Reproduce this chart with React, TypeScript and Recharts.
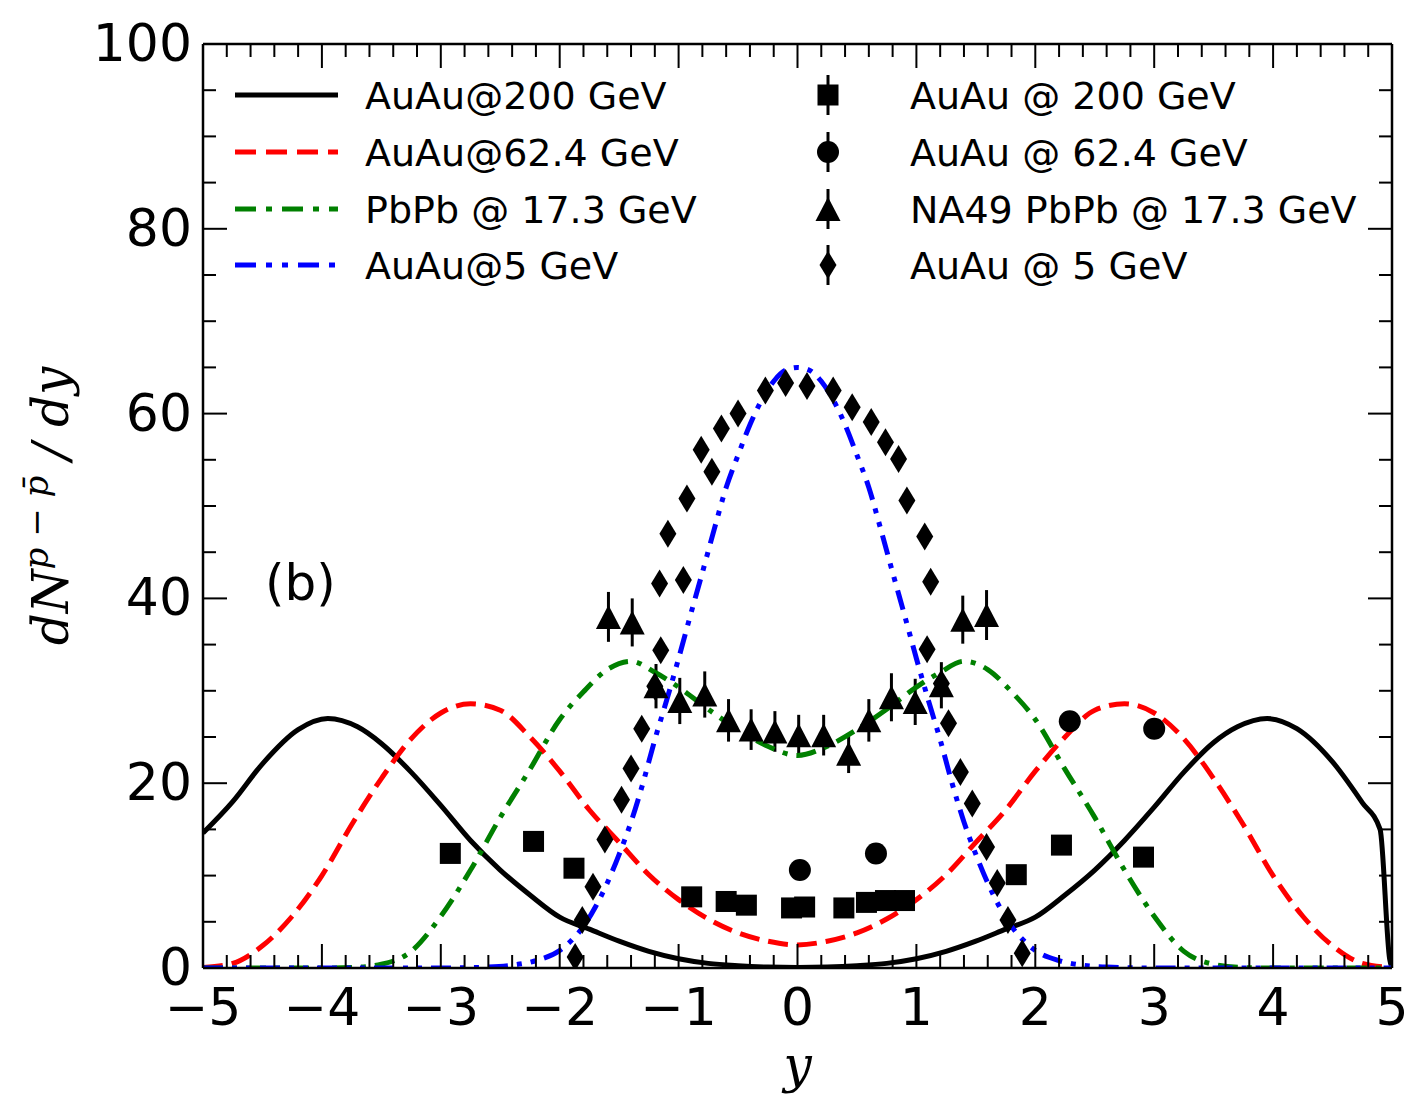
import React from 'react';
import {
  ComposedChart,
  Line,
  Scatter,
  XAxis,
  YAxis,
  ErrorBar,
  Legend,
  ReferenceDot,
} from 'recharts';

type Pt = [number, number];

// model curves (x = rapidity y, value = dN/dy)
const curveAuAu200: Pt[] = [
  [-5, 14.6], [-4.75, 18.0], [-4.5, 22.1], [-4.2, 25.8], [-3.95, 27.0], [-3.7, 26.1],
  [-3.5, 24.3], [-3.25, 21.2], [-3, 17.6], [-2.75, 13.8], [-2.5, 10.6], [-2.25, 7.9],
  [-2, 5.5], [-1.75, 4.2], [-1.5, 2.9], [-1.25, 1.8], [-1, 1.0], [-0.75, 0.5],
  [-0.5, 0.25], [-0.25, 0.1], [0, 0.05], [0.25, 0.1], [0.5, 0.25], [0.75, 0.5],
  [1, 1.0], [1.25, 1.8], [1.5, 2.9], [1.75, 4.2], [2, 5.5], [2.25, 7.9], [2.5, 10.6],
  [2.75, 13.8], [3, 17.4], [3.25, 21.2], [3.5, 24.4], [3.7, 26.1], [3.95, 27.0],
  [4.2, 25.9], [4.5, 22.3], [4.75, 17.9], [4.9, 15.0], [4.98, 1.0], [5, 0],
];

const curveAuAu62: Pt[] = [
  [-5, 0.05], [-4.75, 0.5], [-4.5, 2.4], [-4.25, 5.6], [-4, 10.0], [-3.75, 15.5],
  [-3.5, 20.5], [-3.25, 24.8], [-3, 27.6], [-2.75, 28.6], [-2.5, 27.9], [-2.25, 25.0],
  [-2, 21.3], [-1.75, 17.1], [-1.5, 13.6], [-1.25, 10.1], [-1, 7.4], [-0.75, 5.3],
  [-0.5, 3.8], [-0.25, 2.9], [0, 2.5], [0.25, 2.9], [0.5, 3.8], [0.75, 5.3], [1, 7.4],
  [1.25, 10.1], [1.5, 13.6], [1.75, 17.1], [2, 21.3], [2.25, 25.0], [2.5, 27.9],
  [2.75, 28.6], [3, 27.6], [3.25, 24.8], [3.5, 20.5], [3.75, 15.5], [4, 10.0],
  [4.25, 5.6], [4.5, 2.4], [4.75, 0.5], [5, 0.05],
];

const curvePbPb17: Pt[] = [
  [-5, 0], [-4.5, 0], [-4, 0], [-3.75, 0.05], [-3.5, 0.4], [-3.25, 1.8], [-3, 5.6],
  [-2.75, 10.6], [-2.5, 16.3], [-2.25, 21.5], [-2, 26.9], [-1.8, 29.9], [-1.6, 32.3],
  [-1.4, 33.2], [-1.2, 32.0], [-1, 30.4], [-0.75, 28.0], [-0.5, 25.8], [-0.25, 24.0],
  [0, 23.0], [0.25, 24.0], [0.5, 25.8], [0.75, 28.0], [1, 30.4], [1.2, 32.0],
  [1.4, 33.2], [1.6, 32.3], [1.8, 29.9], [2, 26.9], [2.25, 21.5], [2.5, 16.3],
  [2.75, 10.6], [3, 5.6], [3.25, 1.8], [3.5, 0.4], [3.75, 0.05], [4, 0], [4.5, 0], [5, 0],
];

const curveAuAu5: Pt[] = [
  [-5, 0], [-4, 0], [-3, 0], [-2.6, 0.1], [-2.4, 0.3], [-2.2, 0.8], [-2, 1.9],
  [-1.9, 3.0], [-1.8, 4.5], [-1.7, 6.6], [-1.6, 9.2], [-1.5, 12.3], [-1.4, 15.8],
  [-1.3, 20.0], [-1.2, 24.7], [-1.1, 29.0], [-1, 33.5], [-0.9, 38.2], [-0.8, 42.8],
  [-0.7, 47.5], [-0.6, 52.0], [-0.5, 55.5], [-0.4, 58.8], [-0.3, 61.5], [-0.2, 63.5],
  [-0.1, 64.7], [0, 65.0], [0.1, 64.7], [0.2, 63.5], [0.3, 61.5], [0.4, 58.8],
  [0.5, 55.5], [0.6, 52.0], [0.7, 47.5], [0.8, 42.8], [0.9, 38.2], [1, 33.5],
  [1.1, 29.0], [1.2, 24.7], [1.3, 20.0], [1.4, 15.8], [1.5, 12.3], [1.6, 9.2],
  [1.7, 6.6], [1.8, 4.5], [1.9, 3.0], [2, 1.9], [2.2, 0.8], [2.4, 0.3], [2.6, 0.1],
  [3, 0], [4, 0], [5, 0],
];

// measured points
const dataAuAu200: Pt[] = [
  [-2.92, 12.4], [-2.22, 13.7], [-1.88, 10.8], [-0.89, 7.7], [-0.6, 7.2], [-0.43, 6.8],
  [-0.05, 6.5], [0.06, 6.6], [0.39, 6.5], [0.58, 7.1], [0.74, 7.3], [0.9, 7.3],
  [1.84, 10.1], [2.22, 13.3], [2.91, 12.0],
];

const dataAuAu62: Pt[] = [
  [0.02, 10.6], [0.66, 12.4], [2.29, 26.7], [3.0, 25.9],
];

// [x, y, error]
const dataNA49: [number, number, number][] = [
  [-1.59, 38.0, 2.7], [-1.39, 37.4, 2.6], [-1.19, 30.5, 2.4], [-0.99, 28.9, 2.5],
  [-0.78, 29.6, 2.5], [-0.58, 26.8, 2.3], [-0.39, 25.8, 2.2], [-0.19, 25.6, 2.2],
  [0.01, 25.2, 2.2], [0.22, 25.2, 2.2], [0.43, 23.2, 2.1], [0.6, 26.8, 2.3],
  [0.79, 29.3, 2.6], [0.99, 28.8, 2.5], [1.21, 30.6, 2.5], [1.39, 37.7, 2.6],
  [1.59, 38.2, 2.7],
];

const dataAuAu5: Pt[] = [
  [-1.87, 1.2], [-1.81, 5.2], [-1.72, 8.8], [-1.62, 13.9], [-1.48, 18.2], [-1.4, 21.6],
  [-1.31, 25.9], [-1.2, 30.5], [-1.15, 34.4], [-1.16, 41.6], [-0.96, 42.0], [-1.09, 47.0],
  [-0.93, 50.8], [-0.72, 53.7], [-0.81, 56.1], [-0.64, 58.4], [-0.5, 60.0], [-0.27, 62.5],
  [-0.1, 63.3], [0.08, 63.0], [0.3, 62.5], [0.46, 60.7], [0.62, 59.1], [0.74, 56.9],
  [0.85, 55.1], [0.92, 50.6], [1.07, 46.7], [1.12, 41.8], [1.09, 34.5], [1.21, 30.8],
  [1.27, 26.5], [1.37, 21.2], [1.47, 17.8], [1.59, 13.1], [1.68, 9.2], [1.77, 5.2],
  [1.89, 1.6],
];

const curveNames = ['AuAu@200 GeV', 'AuAu@62.4 GeV', 'PbPb @ 17.3 GeV', 'AuAu@5 GeV'];
const curveColors = ['#000000', '#ff0000', '#008000', '#0000ff'];
const curveDashes = ['', '20 9', '20 9 5 9', '20 9 5 9 5 9'];
const legendDashes = ['', '21 10', '21 10 6 10', '21 10 6 10 6 10'];
const pointNames = ['AuAu @ 200 GeV', 'AuAu @ 62.4 GeV', 'NA49 PbPb @ 17.3 GeV', 'AuAu @ 5 GeV'];
const pointKinds = ['square', 'circle', 'triangle', 'diamond'];

const xMajor = [-5, -4, -3, -2, -1, 0, 1, 2, 3, 4, 5];
const yMajor = [0, 20, 40, 60, 80, 100];
const xTicks = Array.from({ length: 51 }, (_, i) => Math.round((-5 + i * 0.2) * 10) / 10);
const yTicks = Array.from({ length: 21 }, (_, i) => i * 5);

const toRows = (pts: Pt[]) => pts.map(([x, y]) => ({ x, y }));
const curves = [curveAuAu200, curveAuAu62, curvePbPb17, curveAuAu5].map(toRows);

const fmt = (v: number) => (v < 0 ? '\u2212' + Math.abs(v) : String(v));
const FONT = 'DejaVu Sans';
const MAJ = 24;
const MIN = 13;

function Marker({ kind, cx, cy }: { kind: string; cx: number; cy: number }) {
  if (kind === 'square') return <rect x={cx - 10.5} y={cy - 10.5} width={21} height={21} fill="#000" />;
  if (kind === 'circle') return <circle cx={cx} cy={cy} r={11} fill="#000" />;
  if (kind === 'triangle')
    return <polygon points={`${cx},${cy - 12} ${cx - 12.5},${cy + 12} ${cx + 12.5},${cy + 12}`} fill="#000" />;
  return <polygon points={`${cx},${cy - 14} ${cx + 8.5},${cy} ${cx},${cy + 14} ${cx - 8.5},${cy}`} fill="#000" />;
}

const BottomTick = (p: any) => {
  const v = p.payload.value;
  const major = xMajor.includes(v);
  return (
    <g>
      <line x1={p.x} x2={p.x} y1={p.y} y2={p.y - (major ? MAJ : MIN)} stroke="#000" strokeWidth={2} />
      {major && (
        <text x={p.x} y={p.y + 57} textAnchor="middle" fontSize={52} fontFamily={FONT} fill="#000">
          {fmt(v)}
        </text>
      )}
    </g>
  );
};

const TopTick = (p: any) => {
  const major = xMajor.includes(p.payload.value);
  return <line x1={p.x} x2={p.x} y1={p.y} y2={p.y + (major ? MAJ : MIN)} stroke="#000" strokeWidth={2} />;
};

const LeftTick = (p: any) => {
  const v = p.payload.value;
  const major = yMajor.includes(v);
  return (
    <g>
      <line x1={p.x} x2={p.x + (major ? MAJ : MIN)} y1={p.y} y2={p.y} stroke="#000" strokeWidth={2} />
      {major && (
        <text x={p.x - 11} y={p.y + 17} textAnchor="end" fontSize={52} fontFamily={FONT} fill="#000">
          {fmt(v)}
        </text>
      )}
    </g>
  );
};

const RightTick = (p: any) => {
  const major = yMajor.includes(p.payload.value);
  return <line x1={p.x} x2={p.x - (major ? MAJ : MIN)} y1={p.y} y2={p.y} stroke="#000" strokeWidth={2} />;
};

const YLabel = (p: any) => {
  const vb = p.viewBox;
  const cx = vb.x + 68;
  const cy = vb.y + vb.height / 2;
  return (
    <text
      transform={`translate(${cx}, ${cy}) rotate(-90)`}
      textAnchor="middle"
      fontFamily="DejaVu Serif"
      fontStyle="italic"
      fontSize={50}
      fill="#000"
    >
      <tspan>dN</tspan>
      <tspan fontSize={34} dy={-20}>p − p̄</tspan>
      <tspan dy={20}> / dy</tspan>
    </text>
  );
};

const XLabel = (p: any) => {
  const vb = p.viewBox;
  return (
    <text
      x={vb.x + vb.width / 2}
      y={vb.y + 114}
      textAnchor="middle"
      fontFamily="DejaVu Serif"
      fontStyle="italic"
      fontSize={50}
      fill="#000"
    >
      y
    </text>
  );
};

const rowY = [95, 152, 209, 265];

function LegendBox() {
  return (
    <svg width={1409} height={320}>
      {curveNames.map((name, i) => (
        <g key={name}>
          <line
            x1={235}
            x2={338}
            y1={rowY[i]}
            y2={rowY[i]}
            stroke={curveColors[i]}
            strokeWidth={5}
            strokeDasharray={legendDashes[i] || undefined}
          />
          <text x={365} y={rowY[i] + 14} fontSize={38} fontFamily={FONT} fill="#000">
            {name}
          </text>
        </g>
      ))}
      {pointNames.map((name, i) => (
        <g key={name}>
          <line x1={828} x2={828} y1={rowY[i] - 20} y2={rowY[i] + 20} stroke="#000" strokeWidth={3} />
          <Marker kind={pointKinds[i]} cx={828} cy={rowY[i]} />
          <text x={910} y={rowY[i] + 14} fontSize={38} fontFamily={FONT} fill="#000">
            {name}
          </text>
        </g>
      ))}
    </svg>
  );
}

export default function App() {
  const pointSets = [
    toRows(dataAuAu200),
    toRows(dataAuAu62),
    dataNA49.map(([x, y, err]) => ({ x, y, err })),
    toRows(dataAuAu5),
  ];
  return (
    <div style={{ position: 'absolute', left: 0, top: 0, background: '#fff' }}>
      <ComposedChart width={1409} height={1106} margin={{ top: 43, right: 16, bottom: 0, left: 0 }}>
        <XAxis
          xAxisId="b"
          dataKey="x"
          type="number"
          domain={[-5, 5]}
          ticks={xTicks}
          interval={0}
          allowDataOverflow
          height={138}
          tickSize={0}
          tickMargin={0}
          tickLine={false}
          tick={<BottomTick />}
          axisLine={{ stroke: '#000', strokeWidth: 2.5 }}
          label={{ content: <XLabel /> }}
        />
        <XAxis
          xAxisId="t"
          orientation="top"
          dataKey="x"
          type="number"
          domain={[-5, 5]}
          ticks={xTicks}
          interval={0}
          allowDataOverflow
          height={1}
          tickSize={0}
          tickMargin={0}
          tickLine={false}
          tick={<TopTick />}
          axisLine={{ stroke: '#000', strokeWidth: 2.5 }}
        />
        <YAxis
          yAxisId="l"
          dataKey="y"
          type="number"
          domain={[0, 100]}
          ticks={yTicks}
          interval={0}
          allowDataOverflow
          width={203}
          tickSize={0}
          tickMargin={0}
          tickLine={false}
          tick={<LeftTick />}
          axisLine={{ stroke: '#000', strokeWidth: 2.5 }}
          label={{ content: <YLabel /> }}
        />
        <YAxis
          yAxisId="r"
          orientation="right"
          dataKey="y"
          type="number"
          domain={[0, 100]}
          ticks={yTicks}
          interval={0}
          allowDataOverflow
          width={1}
          tickSize={0}
          tickMargin={0}
          tickLine={false}
          tick={<RightTick />}
          axisLine={{ stroke: '#000', strokeWidth: 2.5 }}
        />
        {pointSets.map((rows, i) => (
          <Scatter
            key={pointNames[i]}
            name={pointNames[i]}
            xAxisId="b"
            yAxisId="l"
            data={rows}
            isAnimationActive={false}
            shape={(p: any) => <Marker kind={pointKinds[i]} cx={p.cx} cy={p.cy} />}
          >
            {i === 2 && (
              <ErrorBar dataKey="err" direction="y" width={0} stroke="#000" strokeWidth={3} />
            )}
          </Scatter>
        ))}
        {curves.map((rows, i) => (
          <Line
            key={curveNames[i]}
            name={curveNames[i]}
            xAxisId="b"
            yAxisId="l"
            data={rows}
            dataKey="y"
            type="monotone"
            dot={false}
            activeDot={false}
            stroke={curveColors[i]}
            strokeWidth={5}
            strokeDasharray={curveDashes[i] || undefined}
            isAnimationActive={false}
          />
        ))}
        <ReferenceDot
          xAxisId="b"
          yAxisId="l"
          x={-4.18}
          y={41.8}
          r={0}
          fill="none"
          stroke="none"
          label={{ value: '(b)', position: 'center', fontSize: 50, fontFamily: FONT, fill: '#000' }}
        />
        <Legend
          layout="horizontal"
          verticalAlign="middle"
          align="center"
          wrapperStyle={{ left: 0, top: 0, width: 1409, height: 320 }}
          content={() => <LegendBox />}
        />
      </ComposedChart>
    </div>
  );
}
